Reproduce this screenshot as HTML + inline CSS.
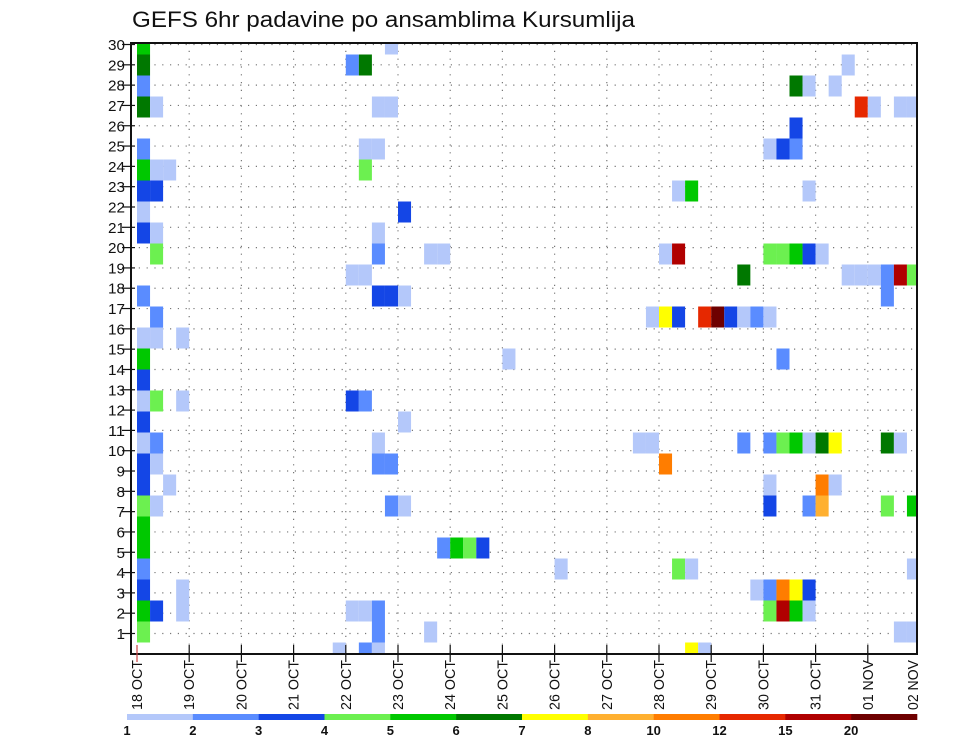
<!DOCTYPE html>
<html><head><meta charset="utf-8"><style>
html,body{margin:0;padding:0;background:#fff;}
svg{display:block;font-family:"Liberation Sans",sans-serif;}
</style></head><body>
<svg id="chart" width="960" height="742" viewBox="0 0 960 742" xmlns="http://www.w3.org/2000/svg">
<rect width="960" height="742" fill="#fff"/>
<text x="132" y="27" font-size="22" textLength="503" lengthAdjust="spacingAndGlyphs" fill="#111">GEFS 6hr padavine po ansamblima Kursumlija</text>
<g id="grid"></g>
<g id="cells"></g>
<g id="axes"></g>
<g id="legend"></g>
</svg>
<script>
// Data: 6-hour step index, ensemble member, 6hr precipitation (mm)
const dayLabels = ["18 OCT","19 OCT","20 OCT","21 OCT","22 OCT","23 OCT","24 OCT","25 OCT","26 OCT","27 OCT","28 OCT","29 OCT","30 OCT","31 OCT","01 NOV","02 NOV"];
const memberLabels = [1,2,3,4,5,6,7,8,9,10,11,12,13,14,15,16,17,18,19,20,21,22,23,24,25,26,27,28,29,30];
const levels = [1,2,3,4,5,6,7,8,10,12,15,20];
const levelColors = ["#b4c8fa","#5a8cff","#1446e6","#6cf050","#00c800","#007800","#ffff00","#ffb030","#ff7d00","#e62800","#b00000","#6e0000"];
const cellStep = [
0,0,0,0,0,0,0,0,0,0,0,0,0,0,0,0,0,0,0,0,0,0,0,0,0,
1,1,1,1,1,1,1,1,1,1,1,1,
2,2, 3,3,3,3, 15,
16,16,16,16, 17,17,17,17,17,17,17,
18,18,18,18,18,18,18,18,18,18, 19,19,19,19,19, 20,20,20,20,
22,22, 23,23, 24, 25, 26, 28, 32, 38, 39,39,
40,40,40, 41,41,41,41, 42,42,42, 43,43, 44, 45, 46,46,46, 47,47,
48,48,48,48,48,48,48,48, 49,49,49,49,49,49, 50,50,50,50,50,50,50,
51,51,51,51,51,51,51, 52,52,52,52, 53,53,53, 54,54, 55,55, 56,56,
57,57,57,57, 58,58,58,58, 59,59,59,59,59];
const cellMember = [
30,29,28,27,25,24,23,22,21,18,16,15,14,13,12,11,10,9,8,7,6,5,4,3,2,
27,24,23,21,20,17,16,13,11,10,8,3,
24,9, 16,13,4,3, 1,
29,19,13,3, 29,25,24,19,13,3,1,
27,25,21,20,18,11,10,3,2,1, 30,27,18,10,8, 22,18,12,8,
20,2, 20,6, 6, 6, 6, 15, 5, 11, 17,11,
20,17,10, 23,20,17,5, 23,5,1, 17,1, 17, 17, 19,17,11, 17,4,
25,20,17,11,9,8,4,3, 25,20,15,11,4,3, 28,26,25,20,11,4,3,
28,23,20,11,8,4,3, 20,11,9,8, 28,11,9, 29,19, 27,19, 27,19,
19,18,11,8, 27,19,11,2, 27,19,8,5,2];
const cellValue = [
5.5,6.5,2.5,6.5,2.5,5.5,3.5,1.5,3.5,2.5,1.5,5.5,3.5,1.5,3.5,1.5,3.5,3.5,4.5,5.5,5.5,2.5,3.5,5.5,4.5,
1.5,1.5,3.5,1.5,4.5,2.5,1.5,4.5,2.5,1.5,1.5,3.5,
1.5,1.5, 1.5,1.5,1.5,1.5, 1.5,
2.5,1.5,3.5,1.5, 6.5,1.5,4.5,1.5,2.5,1.5,2.5,
1.5,1.5,1.5,2.5,3.5,1.5,2.5,2.5,2.5,1.5, 1.5,1.5,3.5,2.5,2.5, 3.5,1.5,1.5,1.5,
1.5,1.5, 1.5,2.5, 5.5, 4.5, 3.5, 1.5, 1.5, 1.5, 1.5,1.5,
1.5,7.5,11, 1.5,17,3.5,4.5, 5.5,1.5,7.5, 13,1.5, 22, 3.5, 6.5,1.5,2.5, 2.5,1.5,
1.5,4.5,1.5,2.5,1.5,3.5,2.5,4.5, 3.5,4.5,2.5,4.5,11,17, 6.5,3.5,2.5,5.5,5.5,7.5,5.5,
1.5,1.5,3.5,1.5,2.5,3.5,1.5, 1.5,6.5,11,9, 1.5,7.5,1.5, 1.5,1.5, 13,1.5, 1.5,1.5,
2.5,2.5,6.5,4.5, 1.5,17,1.5,1.5, 1.5,4.5,5.5,1.5,1.5];

const NS="http://www.w3.org/2000/svg";
const L=131, R=917, T=43, B=654;
const day0X=137, dayW=52.2, stepW=dayW/4;
const xStep = s => day0X + s*stepW;
const xDay = d => day0X + d*dayW;
const cellH = 21.0;
const yCell = m => 44 + (30-m)*cellH;
const yLabel = n => 633.5 - (n-1)*20.31;
function mk(tag, attrs, parent){const e=document.createElementNS(NS,tag);for(const k in attrs)e.setAttribute(k,attrs[k]);parent.appendChild(e);return e;}
function colorFor(v){let c=levelColors[0];for(let i=0;i<levels.length;i++){if(v>=levels[i])c=levelColors[i];}return c;}

const grid=document.getElementById('grid');
memberLabels.forEach(n=>{
  const ln=mk('line',{x1:L,x2:R,y1:yLabel(n),y2:yLabel(n),stroke:'#777','stroke-width':1.2,'stroke-dasharray':'1.2,6.6'},grid);
  
  
});
dayLabels.forEach((d,i)=>{
  if(i===0)return;
  const x=xDay(i); if(x>R)return;
  const ln=mk('line',{x1:x,x2:x,y1:T,y2:B,stroke:'#777','stroke-width':1.2,'stroke-dasharray':'1.2,6.6'},grid);
  
  
});

const cells=document.getElementById('cells');
mk('clipPath',{id:'plotclip'},document.getElementById('chart'));
mk('rect',{x:L,y:T,width:R-L,height:B-T},document.getElementById('plotclip'));
cells.setAttribute('clip-path','url(#plotclip)');
for(let i=0;i<cellStep.length;i++){
  const x=xStep(cellStep[i]), y=yCell(cellMember[i])-cellH/2;
  const r=mk('rect',{x:x,y:y,width:stepW,height:cellH,fill:colorFor(cellValue[i])},cells);
  
  
}

const axes=document.getElementById('axes');
const frame=mk('rect',{x:L,y:T,width:R-L,height:B-T,fill:'none',stroke:'#111','stroke-width':2},axes);


memberLabels.forEach(n=>{
  const y=yLabel(n);
  mk('line',{x1:L-9,x2:L+4,y1:y,y2:y,stroke:'#111','stroke-width':1.2},axes);
  const t=mk('text',{x:L-6,y:y+5.5,'font-size':15,'text-anchor':'end',fill:'#111',textLength:n>9?17:8.5,lengthAdjust:'spacingAndGlyphs'},axes);
  t.textContent=n;
  
  
});
dayLabels.forEach((d,i)=>{
  let x=xDay(i);
  if(x<=R) mk('line',{x1:x,x2:x,y1:B-9,y2:B+8,stroke:i===0?'#c44':'#111','stroke-width':1.2},axes);
  if(x>R) x=913;
  const t=mk('text',{x:0,y:0,'font-size':15,'text-anchor':'end',fill:'#111',textLength:50,lengthAdjust:'spacingAndGlyphs',transform:`translate(${x+5},${B+6}) rotate(-90)`},axes);
  t.textContent=d;
  
  
});

const lg=document.getElementById('legend');
const lgL=127, lgR=917, segW=(lgR-lgL)/levels.length;
levels.forEach((lv,i)=>{
  const r=mk('rect',{x:lgL+i*segW,y:714,width:segW+0.3,height:6,fill:levelColors[i]},lg);
  
  
  const t=mk('text',{x:lgL+i*segW,y:735,'font-size':13,'font-weight':'bold','text-anchor':'middle',fill:'#111'},lg);
  t.textContent=lv;
  
  
});
</script>
</body></html>
